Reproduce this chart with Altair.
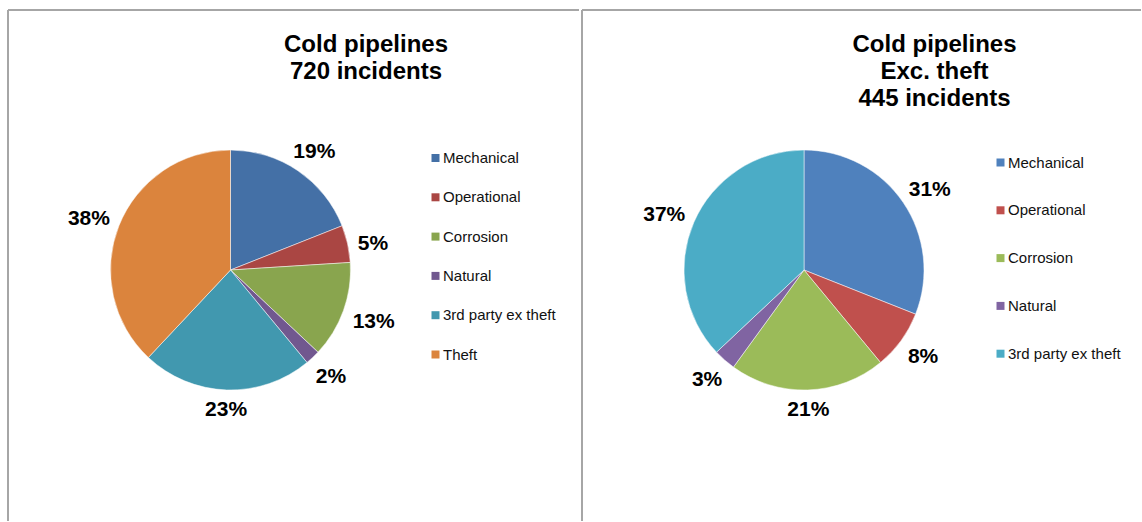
import altair as alt
import pandas as pd

# ---- data ----
causes = ["Mechanical", "Operational", "Corrosion", "Natural", "3rd party ex theft", "Theft"]
left_pct = [19, 5, 13, 2, 23, 38]
right_causes = ["Mechanical", "Operational", "Corrosion", "Natural", "3rd party ex theft"]
right_pct = [31, 8, 21, 3, 37]
left_title = ["Cold pipelines", "720 incidents"]
right_title = ["Cold pipelines", "Exc. theft", "445 incidents"]

left_colors = ["#4470A6", "#AA4643", "#89A54E", "#71588F", "#4198AF", "#DB843D"]
right_colors = ["#4F81BD", "#C0504D", "#9BBB59", "#8064A2", "#4BACC6"]

FONT = "Liberation Sans"
BORDER = "#A6A6A6"
PIE_R = 120


def panel(cats, pct, colors, title_lines, w, h, cx, cy, tx, ty, lx, ly, row_pad):
    df = pd.DataFrame({
        "cause": cats,
        "pct": pct,
        "order": list(range(len(cats))),
    })
    arc = alt.Chart(df).mark_arc(outerRadius=PIE_R, stroke="white", strokeWidth=0.5).encode(
        theta=alt.Theta("pct:Q", stack=True),
        order=alt.Order("order:Q"),
        x=alt.value(cx),
        y=alt.value(cy),
        color=alt.Color(
            "cause:N",
            scale=alt.Scale(domain=cats, range=colors),
            legend=alt.Legend(
                orient="none", legendX=lx, legendY=ly, title=None,
                symbolType="square", symbolSize=64, symbolStrokeWidth=0,
                labelFontSize=15, labelFont=FONT, labelColor="#111111",
                rowPadding=row_pad, labelOffset=0, padding=0,
                labelLimit=300,
            ),
        ),
    )
    # "outside end" labels: mid-angle of each slice, label box just outside the pie
    text = (
        alt.Chart(df)
        .transform_calculate(label="datum.pct + '%'")
        .transform_joinaggregate(total="sum(pct)")
        .transform_window(cum="sum(pct)", sort=[alt.SortField("order")],
                          frame=[None, 0])
        .transform_calculate(
            mid="(datum.cum - datum.pct / 2) / datum.total * 2 * PI",
            halfw="((length(datum.label) - 1) * 11.7 + 18.7) / 2",
        )
        .transform_calculate(
            r=f"{PIE_R + 9} + abs(sin(datum.mid)) * datum.halfw + abs(cos(datum.mid)) * 10"
        )
        .transform_calculate(
            px=f"{cx} + datum.r * sin(datum.mid)",
            py=f"{cy} - datum.r * cos(datum.mid) + (cos(datum.mid) > 0 ? 5.5 : 0)",
        )
        .mark_text(fontSize=21, fontWeight="bold", font=FONT, color="black")
        .encode(
            x=alt.X("px:Q", scale=None, axis=None),
            y=alt.Y("py:Q", scale=None, axis=None),
            text=alt.Text("label:N"),
        )
    )

    tdf = pd.DataFrame({"t": ["\n".join(title_lines)]})
    title = alt.Chart(tdf).mark_text(
        fontSize=24, fontWeight="bold", font=FONT, color="black",
        lineBreak="\n", lineHeight=27, baseline="top", align="center",
    ).encode(x=alt.value(tx), y=alt.value(ty), text="t:N")

    bdf = pd.DataFrame({"b": [0]})
    top_rule = alt.Chart(bdf).mark_rule(color=BORDER, strokeWidth=2).encode(
        x=alt.value(2), x2=alt.value(w), y=alt.value(2)
    )
    left_rule = alt.Chart(bdf).mark_rule(color=BORDER, strokeWidth=2).encode(
        x=alt.value(2), y=alt.value(2), y2=alt.value(h)
    )
    return alt.layer(arc, text, title, top_rule, left_rule).properties(width=w, height=h)


left = panel(causes, left_pct, left_colors, left_title, 573, 513,
             224.5, 262, 360, 25, 422, 142.5, 23.3)
right = panel(right_causes, right_pct, right_colors, right_title, 561, 513,
              224, 262, 354.5, 25, 413, 147, 31.8)

chart = (
    alt.hconcat(left, right, spacing=0)
    .resolve_scale(color="independent", theta="independent")
    .properties(
        padding={"left": 6, "top": 8, "right": 0, "bottom": 0},
        background="white",
    )
    .configure_view(stroke=None)
)

chart.save("out.html", embed_options={"renderer": "svg", "actions": False})
